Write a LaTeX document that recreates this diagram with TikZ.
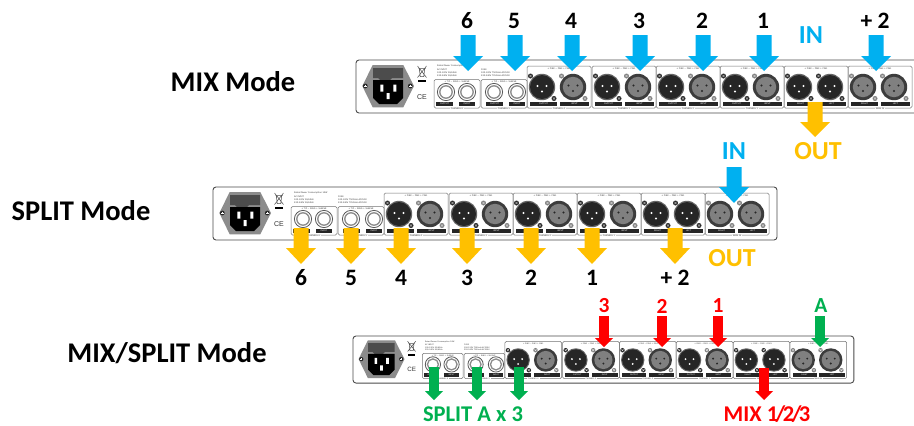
\documentclass[tikz,border=0pt]{standalone}
\usepackage{fontspec}
\setmainfont{Carlito}
\newfontfamily\microfont{DejaVu Sans}
\newfontfamily\cefont{Liberation Sans}
\definecolor{cblue}{HTML}{00B0F0}
\definecolor{corange}{HTML}{FFC000}
\definecolor{cred}{HTML}{FF0000}
\definecolor{cgreen}{HTML}{00B050}
\definecolor{ink}{HTML}{262626}
\tikzset{
  title/.style={font=\bfseries\fontsize{28.5}{28.5}\selectfont,text=black,inner sep=0pt},
  num/.style={font=\bfseries\fontsize{23.5}{24}\selectfont,text=black,inner sep=0pt},
  smallnum/.style={font=\bfseries\fontsize{21.5}{22}\selectfont,inner sep=0pt},
  tag/.style={font=\bfseries\fontsize{26}{26}\selectfont,inner sep=0pt},
  smalltag/.style={font=\bfseries\fontsize{22.5}{23}\selectfont,inner sep=0pt},
  chassis/.style={draw=black!70,line width=.9pt,fill=white,rounded corners=3pt},
  chanbox/.style={draw=black!55,line width=.5pt,rounded corners=1.5pt},
  micro/.style={font=\microfont\fontsize{2.1}{2.4}\selectfont,inner sep=0pt,text=black!80,transform shape},
  barlabel/.style={font=\microfont\fontsize{2.2}{2.4}\selectfont,inner sep=0pt,text=white,transform shape},
  labelbar/.style={fill=ink},
}
% block arrow pointing down: colour, x, top, head start, tip, half shaft, half head
\newcommand\blockdown[7]{\fill[#1] (#2-#6,#3) -- (#2+#6,#3) -- (#2+#6,#4) -- (#2+#7,#4) -- (#2,#5) -- (#2-#7,#4) -- (#2-#6,#4) -- cycle;}
\newcommand\xlrscrew[3]{\fill[#3] (#1,#2) circle (2.5);\draw[white,line width=.25pt] (#1-1.2,#2-1.2) -- (#1+1.2,#2+1.2) (#1-1.2,#2+1.2) -- (#1+1.2,#2-1.2);}
\newcommand\xlrmale[2]{%
  \xlrscrew{#1-11.5}{#2-11}{ink}\xlrscrew{#1+12}{#2+11.5}{ink}
  \fill[black!60] (#1,#2) circle (13.2);
  \fill[ink] (#1,#2) circle (12);
  \fill[white] (#1-4.5,#2-1) circle (1.15) (#1+4.5,#2-1) circle (1.15) (#1,#2+4.5) circle (1.15);}
\newcommand\xlrfemale[2]{%
  \xlrscrew{#1-11.5}{#2-11}{black!50}\xlrscrew{#1+12}{#2+11.5}{black!50}
  \fill[ink!90] (#1,#2) circle (13.2);
  \fill[black!50] (#1,#2) circle (10.2);
  \fill[ink] (#1-4.5,#2-1.5) circle (1.2) (#1+4.5,#2-1.5) circle (1.2) (#1,#2+4) circle (1.2);}
\newcommand\jack[2]{%
  \draw[black!65,line width=.8pt,fill=white] (#1,#2) circle (8.6);
  \draw[black!45,line width=1.3pt,fill=white] (#1,#2) circle (6.2);}
\newcommand\lbar[3]{% x0, x1, text
  \fill[labelbar] (#1,41.5) rectangle (#2,46);
  \node[barlabel] at ({(#1+#2)/2},43.8) {#3};}
\newcommand\rearpanel[4]{% x, y, scale, prefix
\begin{scope}[shift={(#1,#2)},scale=#3,name prefix=#4-]
  \draw[chassis] (0,0) rectangle (564,53);
  % power inlet
  \fill[black!45] (6.3,26) -- (16.7,5) -- (47.3,5) -- (58,26) -- (47.3,47.3) -- (16.7,47.3) -- cycle;
  \fill[black!70] (17,8) -- (47,8) -- (47,18) -- (36,18) -- (34,20) -- (24,20) -- (22,18) -- (17,18) -- cycle;
  \fill[black] (17,20) -- (47,20) -- (47,38) -- (41,44) -- (23,44) -- (17,38) -- cycle;
  \fill[white] (24.3,24.5) rectangle (27.3,31.5) (37.3,24.5) rectangle (40.3,31.5) (30.5,33) rectangle (33.5,39);
  \fill[ink] (9.3,26) circle (2.4) (54.3,26) circle (2.4);
  \draw[white,line width=.3pt] (8,26) -- (10.6,26) (9.3,24.7) -- (9.3,27.3) (53,26) -- (55.6,26) (54.3,24.7) -- (54.3,27.3);
  % disposal mark
  \draw[black!70,line width=.5pt] (62.5,8.5) -- (69.5,8.5) (63.3,8.5) -- (64.2,16.5) -- (67.8,16.5) -- (68.7,8.5) (61.5,6) -- (70.5,17.5) (70.5,6) -- (61.5,17.5);
  \fill[black] (61.7,20) rectangle (70,22);
  \node[inner sep=0pt,font=\cefont\fontsize{7}{7}\selectfont,text=black!80,transform shape] (ce) at (66,37) {CE};
  % rating text
  \node[micro,anchor=west] (rate) at (81,6.2) {Rated Power Consumption 10W};
  \node[micro,anchor=west] (acin) at (81,10) {AC INPUT};
  \node[micro,anchor=west] (ac1) at (81,13) {100-120V 50/60Hz};
  \node[micro,anchor=west] (ac2) at (81,16) {220-240V 50/60Hz};
  \node[micro,anchor=west] (fuse) at (125,10) {FUSE};
  \node[micro,anchor=west] (f1) at (125,13) {100-120V T500mA AC250V};
  \node[micro,anchor=west] (f2) at (125,16) {220-240V T250mA AC250V};
  % jack channels
  \draw[chanbox] (78,19.5) rectangle (124,48);
  \draw[chanbox] (125,19.5) rectangle (171,48);
  \node[micro] at (101,22) {+ TIP − RING ⊥ SLEEVE};
  \node[micro] at (148,22) {+ TIP − RING ⊥ SLEEVE};
  \jack{90}{32}\jack{111}{32}\jack{138}{32}\jack{161}{32}
  \lbar{80}{97}{OUTPUT}\lbar{103}{119}{INPUT}\lbar{130}{147}{OUTPUT}\lbar{153}{169}{INPUT}
  \node[micro,fill=white,inner xsep=1pt] at (101,48.5) {CHANNEL 6};
  \node[micro,fill=white,inner xsep=1pt] at (148,48.5) {CHANNEL 5};
  % XLR channels
  \foreach \cx/\kind/\la/\lb/\nm in {171/mf/OUTPUT/INPUT/CHANNEL 4,236/mf/OUTPUT/INPUT/CHANNEL 3,300/mf/OUTPUT/INPUT/CHANNEL 2,364/mf/OUTPUT/INPUT/CHANNEL 1,428/mm/RIGHT/LEFT/MAIN OUT,492/ff/RIGHT/LEFT/MAIN IN}{
    \draw[chanbox] (\cx,6) rectangle ({\cx+64},48);
    \node[micro] at ({\cx+32},9) {+ PIN2 − PIN3 ⊥ PIN1};
    \ifx\kind\kindff \xlrfemale{\cx+15}{27}\xlrfemale{\cx+46}{27}
    \else\ifx\kind\kindmm \xlrmale{\cx+15}{27}\xlrmale{\cx+46}{27}
    \else \xlrmale{\cx+15}{27}\xlrfemale{\cx+46}{27}\fi\fi
    \lbar{\cx+3}{\cx+30}{\la}\lbar{\cx+33}{\cx+62}{\lb}
    \node[micro,fill=white,inner xsep=1pt] at ({\cx+32},48.5) {\nm};
  }
\end{scope}}
\def\kindff{ff}\def\kindmm{mm}
\begin{document}
\begin{tikzpicture}[x=1pt,y=-1pt]
\fill[white] (0,0) rectangle (914,426);
\clip (0,0) rectangle (914,426);
\rearpanel{356}{60}{1}{a}
\rearpanel{213}{187}{1}{b}
\rearpanel{353}{336}{.888}{c}
% titles
\node[title] (t1) at (233,82) {MIX Mode};
\node[title] (t2) at (81,211) {SPLIT Mode};
\node[title] (t3) at (167,353) {MIX/SPLIT Mode};
% MIX mode
\foreach \x/\l in {468/6,515/5,572/4,640/3,703/2,764/1,876/+ 2}{
  \blockdown{cblue}{\x}{35}{56}{71}{7.5}{15}
  \node[num] at (\x-1,21) {\l};}
\node[tag,text=cblue] (in1) at (811,35) {IN};
\blockdown{corange}{815}{102}{122}{137}{7.5}{15}
\node[tag,text=corange] (out1) at (818,151) {OUT};
% SPLIT mode
\foreach \x/\l in {301/6,351/5,401/4,467/3,531/2,592/1,675/+ 2}{
  \blockdown{corange}{\x}{228}{248}{264}{7.5}{15}
  \node[num] at (\x,278) {\l};}
\blockdown{cblue}{734}{167}{187}{203}{7.5}{15}
\node[tag,text=cblue] (in2) at (734,151) {IN};
\node[tag,text=corange] (out2) at (732,258) {OUT};
% MIX/SPLIT mode
\foreach \x/\l in {604/3,662/2,718/1}{
  \blockdown{cred}{\x}{316}{338}{347}{4.8}{9}
  \node[smallnum,text=cred] at (\x,306) {\l};}
\blockdown{cgreen}{820}{316}{338}{347}{4.8}{9}
\node[smallnum,text=cgreen] (a) at (821,306) {A};
\blockdown{cred}{764}{368}{391}{400}{4.8}{9}
\node[smalltag,text=cred] (mix) at (767,414) {MIX 1\kern-2.5pt/\kern-2.5pt2\kern-2.5pt/\kern-2.5pt3};
\foreach \x in {434,477,519}{\blockdown{cgreen}{\x}{367}{391}{400}{4.8}{9}}
\node[smalltag,text=cgreen] (split) at (473,414) {SPLIT A x 3};
\end{tikzpicture}
\end{document}
